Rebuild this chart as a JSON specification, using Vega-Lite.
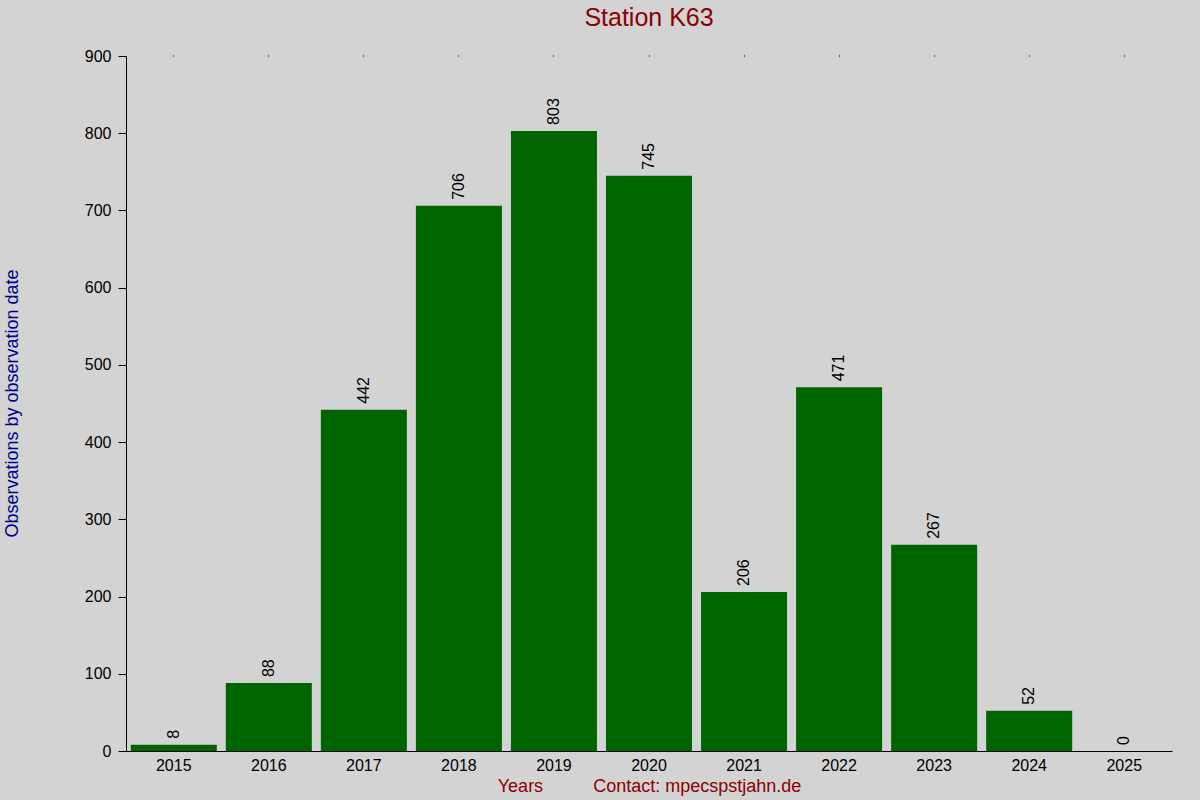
{
  "$schema": "https://vega.github.io/schema/vega-lite/v6.json",
  "autosize": "none",
  "width": 1046,
  "height": 695,
  "padding": {"left": 126, "top": 56, "right": 28, "bottom": 49},
  "background": "#D3D3D3",
  "title": {
    "text": "Station K63",
    "font": "Liberation Sans",
    "fontSize": 25,
    "fontWeight": "normal",
    "color": "#8B0000",
    "anchor": "middle",
    "baseline": "alphabetic",
    "offset": -3
  },
  "data": {
    "values": [
      {"year": "2015", "count": 8},
      {"year": "2016", "count": 88},
      {"year": "2017", "count": 442},
      {"year": "2018", "count": 706},
      {"year": "2019", "count": 803},
      {"year": "2020", "count": 745},
      {"year": "2021", "count": 206},
      {"year": "2022", "count": 471},
      {"year": "2023", "count": 267},
      {"year": "2024", "count": 52},
      {"year": "2025", "count": 0}
    ]
  },
  "encoding": {
    "x": {
      "field": "year",
      "type": "ordinal",
      "scale": {"paddingInner": 0.095, "paddingOuter": 0.05}
    },
    "y": {
      "field": "count",
      "type": "quantitative",
      "scale": {"domain": [0, 900], "nice": false}
    }
  },
  "layer": [
    {
      "mark": {"type": "bar", "color": "#006400"},
      "encoding": {
        "x": {
          "field": "year",
          "type": "ordinal",
          "axis": {
            "orient": "bottom",
            "labelAngle": 0,
            "ticks": false,
            "labelPadding": 6,
            "title": "Years\u00a0\u00a0\u00a0\u00a0\u00a0\u00a0\u00a0\u00a0\u00a0\u00a0Contact: mpecspstjahn.de",
            "titleColor": "#8B0000",
            "titleFontSize": 18,
            "titleFontWeight": "normal",
            "titlePadding": 4
          }
        },
        "y": {
          "field": "count",
          "type": "quantitative",
          "axis": {
            "values": [0, 100, 200, 300, 400, 500, 600, 700, 800, 900],
            "tickSize": 8,
            "labelPadding": 7,
            "title": "Observations by observation date",
            "titleColor": "#00008B",
            "titleFontSize": 18,
            "titleFontWeight": "normal",
            "titleAngle": -90,
            "titleX": -114,
            "titleY": 347,
            "titleAlign": "center",
            "titleBaseline": "middle"
          }
        }
      }
    },
    {
      "mark": {
        "type": "text",
        "angle": -90,
        "align": "left",
        "baseline": "middle",
        "dx": 6,
        "font": "Liberation Sans",
        "fontSize": 16,
        "color": "#000000"
      },
      "encoding": {
        "x": {
          "field": "year",
          "type": "ordinal",
          "axis": {
            "orient": "top",
            "labels": false,
            "domain": false,
            "tickSize": 1,
            "tickColor": "#000000",
            "title": null
          }
        },
        "text": {"field": "count", "type": "quantitative"}
      }
    }
  ],
  "resolve": {"axis": {"x": "independent"}},
  "config": {
    "view": {"stroke": null},
    "axis": {
      "grid": false,
      "domainColor": "#000000",
      "tickColor": "#000000",
      "labelColor": "#000000",
      "labelFont": "Liberation Sans",
      "labelFontSize": 16,
      "titleFont": "Liberation Sans"
    }
  }
}
